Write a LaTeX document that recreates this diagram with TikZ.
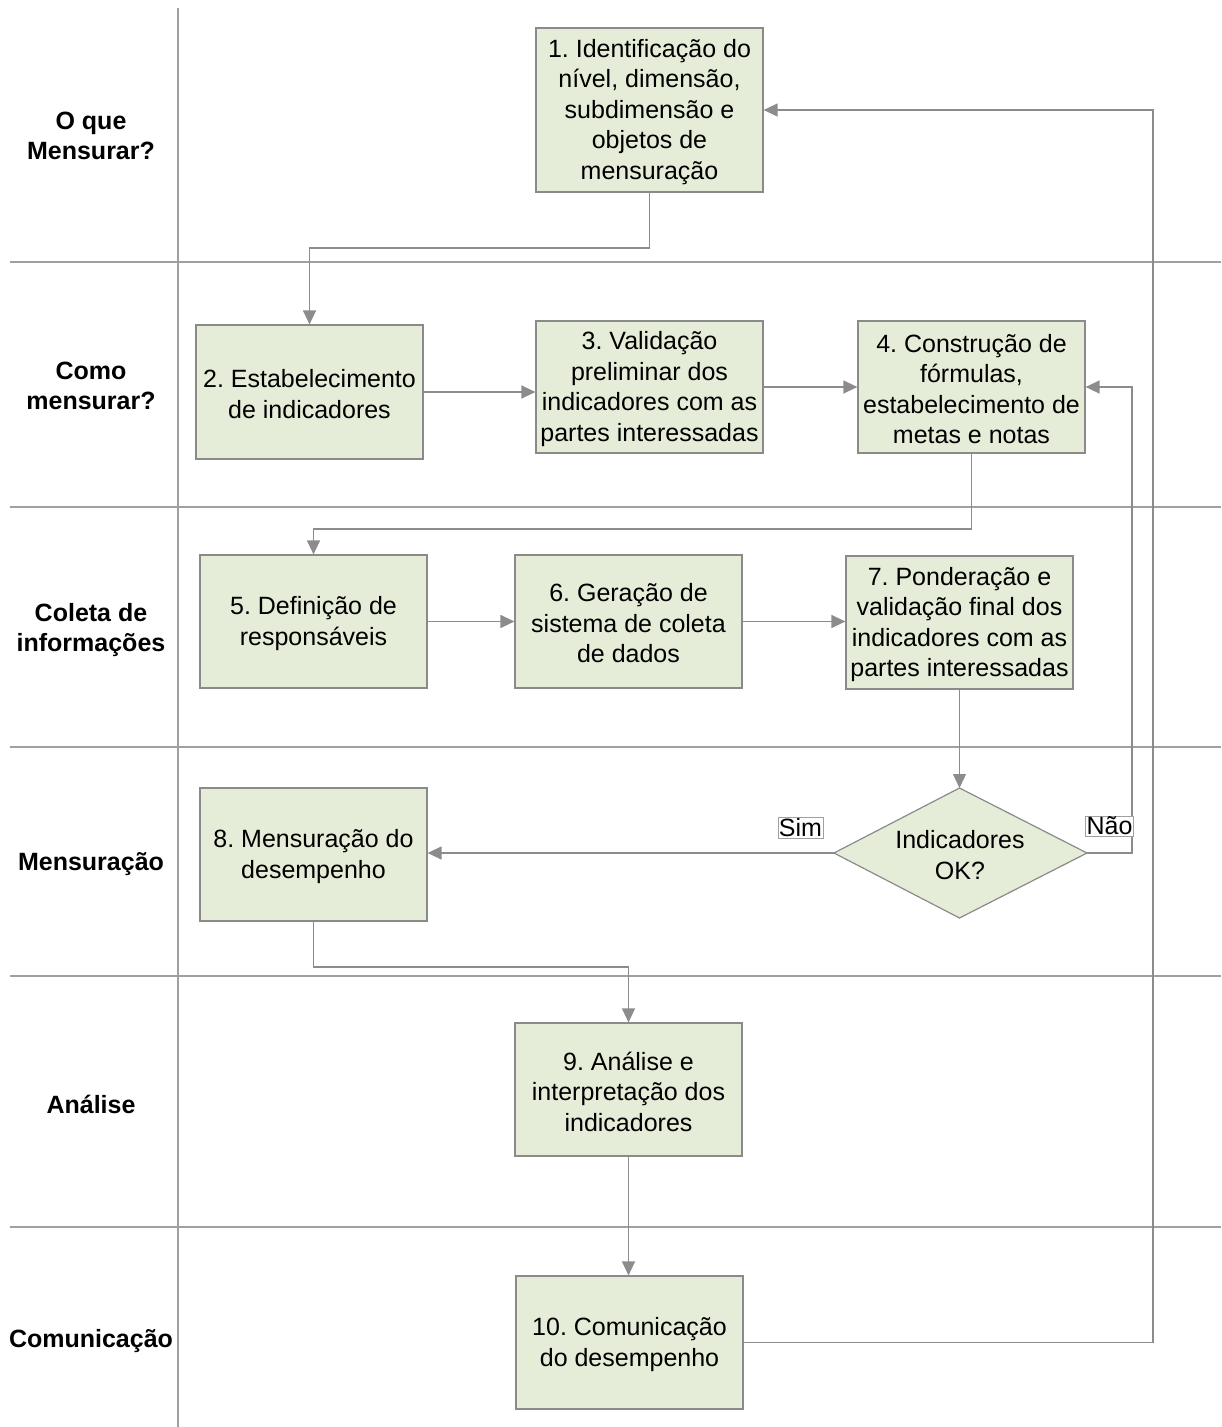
\documentclass[tikz,border=0pt]{standalone}
\usepackage{fontspec}
\setmainfont{Liberation Sans}
\usetikzlibrary{arrows.meta}
\frenchspacing
\definecolor{boxfill}{HTML}{E5EDD8}
\definecolor{boxline}{HTML}{8A8A8A}
\definecolor{lane}{HTML}{A0A0A0}
\definecolor{conn}{HTML}{8C8C8C}
\tikzset{
  stepbox/.style={draw=boxline, line width=1.2pt, fill=boxfill, rectangle,
    minimum width=227pt, minimum height=133pt, inner sep=0pt, align=center,
    font=\fontsize{25}{30.5}\selectfont},
  shapeline/.style={draw=boxline, line width=1.2pt, fill=boxfill, line join=miter},
  plaintext/.style={inner sep=0pt, align=center, font=\fontsize{25}{30.5}\selectfont},
  lanelabel/.style={align=center, font=\fontsize{25}{30}\selectfont\bfseries},
  tag/.style={draw=lane, line width=0.8pt, fill=white, inner sep=1pt,
    font=\fontsize{25}{28}\selectfont},
  lanerule/.style={draw=lane, line width=1.3pt},
  flow/.style={draw=conn, line width=1.3pt, -{Triangle[length=14pt,width=13pt]}}
}
\begin{document}
\begin{tikzpicture}[x=1pt,y=-1pt]
\useasboundingbox (0,0) rectangle (1221,1427);

% swimlane grid
\path[lanerule] (178,8) -- (178,1427);
\foreach \yy in {262,507,747,976,1227}
  \path[lanerule] (10,\yy) -- (1221,\yy);

% lane titles
\node[lanelabel] (l1) at (91,136) {O que\\Mensurar?};
\node[lanelabel] (l2) at (91,386) {Como\\mensurar?};
\node[lanelabel] (l3) at (91,630) {Coleta de\\informações};
\node[lanelabel] (l4) at (91,864) {Mensuração};
\node[lanelabel] (l5) at (91,1104) {Análise};
\node[lanelabel] (l6) at (91,1341) {Comunicação};

% process steps
\node[stepbox, minimum height=164pt] (s1) at (649.5,110) {};
\node[plaintext] (t1) at (649.5,112)
  {1. Identificação do\\nível, dimensão,\\subdimensão e\\objetos de\\mensuração};
\node[stepbox, minimum height=134pt] (s2) at (309.5,392) {};
\node[plaintext] (t2) at (309.5,394) {2. Estabelecimento\\de indicadores};
\node[stepbox, minimum height=132pt] (s3) at (649.5,387) {};
\node[plaintext] (t3) at (649.5,389)
  {3. Validação\\preliminar dos\\indicadores com as\\partes interessadas};
\node[stepbox, minimum height=132pt] (s4) at (971.5,387) {};
\node[plaintext] (t4) at (971.5,389)
  {4. Construção de\\fórmulas,\\estabelecimento de\\metas e notas};
\node[stepbox] (s5) at (313.5,621.5) {};
\node[plaintext] (t5) at (313.5,623.5) {5. Definição de\\responsáveis};
\node[stepbox] (s6) at (628.5,621.5) {};
\node[plaintext] (t6) at (628.5,623.5) {6. Geração de\\sistema de coleta\\de dados};
\node[stepbox] (s7) at (959.5,622.5) {};
\node[plaintext] (t7) at (959.5,624.5)
  {7. Ponderação e\\validação final dos\\indicadores com as\\partes interessadas};

% decision diamond
\coordinate (dN) at (959.5,788);
\coordinate (dE) at (1087,853);
\coordinate (dS) at (959.5,918);
\coordinate (dW) at (834,853);
\path[shapeline] (dN) -- (dE) -- (dS) -- (dW) -- cycle;
\node[plaintext] (d) at (960,855) {Indicadores\\OK?};

\node[stepbox] (s8) at (313.5,854.5) {};
\node[plaintext] (t8) at (313.5,856.5) {8. Mensuração do\\desempenho};
\node[stepbox] (s9) at (628.5,1089.5) {};
\node[plaintext] (t9) at (628.5,1091.5) {9. Análise e\\interpretação dos\\indicadores};
\node[stepbox] (s10) at (629.5,1342.5) {};
\node[plaintext] (t10) at (629.5,1344.5) {10. Comunicação\\do desempenho};

% connectors
\draw[flow] (s1.south) |- (309.5,248) -- (s2.north);
\draw[flow] (s2.east) -- (s2.east -| s3.west);
\draw[flow] (s3.east) -- (s4.west);
\draw[flow] (s4.south) |- (313.5,529) -- (s5.north);
\draw[flow] (s5.east) -- (s6.west);
\draw[flow] (s6.east) -- (s6.east -| s7.west);
\draw[flow] (s7.south) -- (dN);
\draw[flow] (dW) -- (dW -| s8.east);
\draw[flow] (dE) -- (1132,853) |- (s4.east);
\draw[flow] (s8.south) |- (628.5,967) -- (s9.north);
\draw[flow] (s9.south) -- (s9.south |- s10.north);
\draw[flow] (s10.east) -- (1153,1342.5) |- (s1.east);

% branch labels
\node[tag] (yes) at (800.5,828) {Sim};
\node[tag] (no) at (1109.5,826) {Não};
\end{tikzpicture}
\end{document}
